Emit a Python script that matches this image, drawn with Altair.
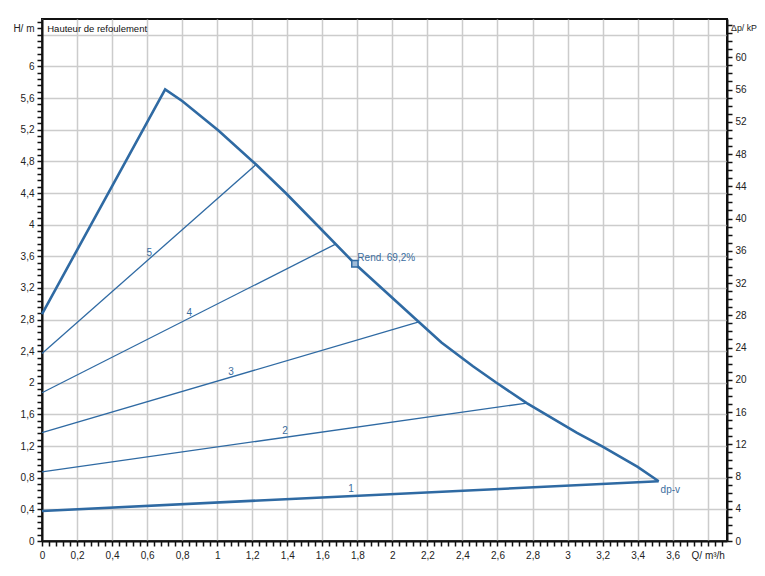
import altair as alt
import pandas as pd

# ---- data ----
max_q = [0.0, 0.703, 0.802, 1.007, 1.222, 1.391, 1.581, 1.786, 2.151, 2.28, 2.46, 2.588, 2.767, 3.054, 3.195, 3.40, 3.52]
max_h = [2.87, 5.709, 5.561, 5.19, 4.76, 4.40, 3.97, 3.505, 2.77, 2.51, 2.21, 2.01, 1.744, 1.368, 1.20, 0.937, 0.755]

ctrl_names = ["1", "2", "3", "4", "5"]
ctrl_q0 = [0.0, 0.0, 0.0, 0.0, 0.0]
ctrl_h0 = [0.38, 0.875, 1.37, 1.875, 2.37]
ctrl_q1 = [3.52, 2.767, 2.151, 1.676, 1.222]
ctrl_h1 = [0.755, 1.744, 2.77, 3.754, 4.76]
label_q = [1.764, 1.387, 1.079, 0.840, 0.612]
label_h = [0.655, 1.389, 2.137, 2.884, 3.64]

rend_q = [1.786]
rend_h = [3.505]
rend_text = ["Rend. 69,2%"]
rend_text_q = [1.80]
rend_text_h = [3.58]

dpv_text = ["dp-v"]
dpv_q = [3.531]
dpv_h = [0.642]

title_text = ["Hauteur de refoulement"]
title_q = [0.03]
title_h = [6.47]

x_ticks = [round(i * 0.04, 2) for i in range(98)]
y_ticks = [round(i * 0.08, 2) for i in range(83)]
kpa_ticks = list(range(0, 65))

X_MAX = 3.91
Y_MAX = 6.6
KPA_MAX = Y_MAX * 9.81

LINE_COLOR = "#2f6aa3"
TEXT_COLOR = "#3b6d9e"
FONT = "Liberation Sans"

# ---- tables ----
max_df = pd.DataFrame({"q": max_q, "h": max_h})
rows = []
for n, q0, h0, q1, h1 in zip(ctrl_names, ctrl_q0, ctrl_h0, ctrl_q1, ctrl_h1):
    rows.append({"name": n, "q": q0, "h": h0, "o": 0})
    rows.append({"name": n, "q": q1, "h": h1, "o": 1})
ctrl_df = pd.DataFrame(rows)
thick_ctrl = ctrl_df[ctrl_df["name"] == "1"]
thin_ctrl = ctrl_df[ctrl_df["name"] != "1"]
lab_df = pd.DataFrame({"name": ctrl_names, "q": label_q, "h": label_h})
rend_df = pd.DataFrame({"q": rend_q, "h": rend_h})
rend_t_df = pd.DataFrame({"t": rend_text, "q": rend_text_q, "h": rend_text_h})
dpv_df = pd.DataFrame({"t": dpv_text, "q": dpv_q, "h": dpv_h})
title_df = pd.DataFrame({"t": title_text, "q": title_q, "h": title_h})
kpa_df = pd.DataFrame({"kpa": [0, 64]})

x_grid_test = "abs(datum.value*5 - round(datum.value*5)) < 0.001"
y_grid_test = "abs(datum.value*2.5 - round(datum.value*2.5)) < 0.001"

x_axis = alt.Axis(
    title=None,
    values=x_ticks,
    tickCount=500,
    grid=True,
    gridOpacity={"condition": {"test": x_grid_test, "value": 1}, "value": 0},
    labelExpr=(
        "abs(datum.value-3.8) < 0.001 ? 'Q/ m³/h' : (" + x_grid_test +
        " && datum.value < 3.7 ? replace(format(datum.value, '~g'), '.', ',') : '')"
    ),
    labelOverlap=False,
    labelFlush=False,
    labelPadding=4,
)
y_axis = alt.Axis(
    title=None,
    values=y_ticks,
    tickCount=500,
    grid=True,
    gridOpacity={"condition": {"test": y_grid_test, "value": 1}, "value": 0},
    labelExpr=(
        "abs(datum.value-6.48) < 0.001 ? 'H/ m' : (" + y_grid_test +
        " && datum.value < 6.2 ? replace(format(datum.value, '~g'), '.', ',') : '')"
    ),
    labelOverlap=False,
    labelFlush=False,
    labelPadding=3,
)

xs = alt.Scale(domain=[0, X_MAX], nice=False, zero=False)
ys = alt.Scale(domain=[0, Y_MAX], nice=False, zero=False)

base_x = alt.X("q:Q", scale=xs, axis=x_axis)
base_y = alt.Y("h:Q", scale=ys, axis=y_axis)

max_line = alt.Chart(max_df).mark_line(color=LINE_COLOR, strokeWidth=2.6).encode(
    x=base_x, y=base_y, order=alt.Order("q:Q")
)
thick_line = alt.Chart(thick_ctrl).mark_line(color=LINE_COLOR, strokeWidth=2.6).encode(
    x=alt.X("q:Q", scale=xs), y=alt.Y("h:Q", scale=ys), order="o:Q"
)
thin_lines = alt.Chart(thin_ctrl).mark_line(color=LINE_COLOR, strokeWidth=1.3).encode(
    x=alt.X("q:Q", scale=xs), y=alt.Y("h:Q", scale=ys), detail="name:N", order="o:Q"
)
labels = alt.Chart(lab_df).mark_text(color=TEXT_COLOR, font=FONT, fontSize=10).encode(
    x=alt.X("q:Q", scale=xs), y=alt.Y("h:Q", scale=ys), text="name:N"
)
rend_pt = alt.Chart(rend_df).mark_point(
    shape="square", size=40, filled=True, fill="#9fbcd9", stroke=LINE_COLOR, strokeWidth=1.5, opacity=1
).encode(x=alt.X("q:Q", scale=xs), y=alt.Y("h:Q", scale=ys))
rend_t = alt.Chart(rend_t_df).mark_text(color=TEXT_COLOR, font=FONT, fontSize=10, align="left").encode(
    x=alt.X("q:Q", scale=xs), y=alt.Y("h:Q", scale=ys), text="t:N"
)
dpv_t = alt.Chart(dpv_df).mark_text(color=TEXT_COLOR, font=FONT, fontSize=10, align="left").encode(
    x=alt.X("q:Q", scale=xs), y=alt.Y("h:Q", scale=ys), text="t:N"
)
title_t = alt.Chart(title_df).mark_text(color="#111", font=FONT, fontSize=9.5, align="left").encode(
    x=alt.X("q:Q", scale=xs), y=alt.Y("h:Q", scale=ys), text="t:N"
)

main = alt.layer(max_line, thick_line, thin_lines, labels, rend_pt, rend_t, dpv_t, title_t)

right = alt.Chart(kpa_df).mark_point(opacity=0).encode(
    y=alt.Y(
        "kpa:Q",
        scale=alt.Scale(domain=[0, KPA_MAX], nice=False, zero=False),
        axis=alt.Axis(
            title=None,
            orient="right",
            values=kpa_ticks,
            tickCount=500,
            grid=False,
            labelExpr="datum.value == 64 ? 'Δp/ kP' : (datum.value % 4 == 0 && datum.value <= 60 ? format(datum.value, 'd') : '')",
            labelFontSize={"condition": {"test": "datum.value == 64", "value": 8.8}, "value": 10},
            labelPadding={"condition": {"test": "datum.value == 64", "value": -1.5}, "value": 3},
            labelOffset={"condition": {"test": "datum.value == 64", "value": 2}, "value": 0},
            labelOverlap=False,
            labelFlush=False,
        ),
    )
)

chart = alt.layer(main, right).resolve_scale(y="independent").properties(
    width=685,
    height=522,
    autosize=alt.AutoSizeParams(type="none"),
    padding={"left": 34, "top": 11, "right": 30, "bottom": 27},
    background="white",
).configure_axis(
    domainColor="#111",
    domainWidth=2,
    tickColor="#111",
    tickWidth=1.5,
    tickSize=5,
    labelFont=FONT,
    labelFontSize=10,
    labelColor="#222",
    gridColor="#cccccc",
    gridWidth=1.5,
).configure_view(stroke="#111", strokeWidth=2)

chart.save("out.html", embed_options={"renderer": "svg", "actions": False})
